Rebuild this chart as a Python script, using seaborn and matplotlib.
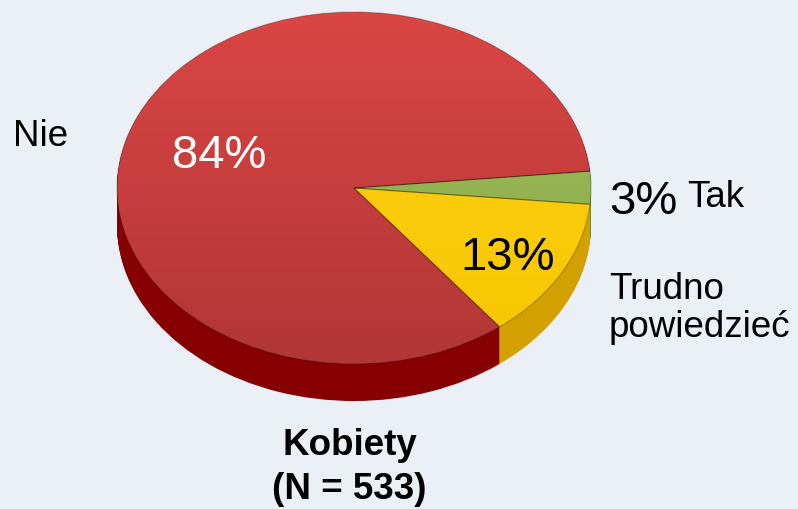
import numpy as np
import matplotlib.pyplot as plt
from matplotlib.colors import LinearSegmentedColormap
import seaborn as sns

# data
labels = ["Tak", "Trudno", "powiedzieć", "Nie"]
shares = [3, 13, 84]
pct_text = ["3%", "13%", "84%"]
title_lines = ["Kobiety", "(N = 533)"]

# top face colours (light -> dark) and side colours
top_grad = [("#A9C766", "#7F9E3C"), ("#FFD21A", "#F7C600"), ("#DA4644", "#B13636")]
side_colors = ["#6F8C30", "#D2A000", "#860000"]

sns.set_theme(style="white")
plt.rcParams["font.family"] = ["Liberation Sans", "DejaVu Sans"]

W, H = 798, 509
bg = "#EBEFF6"
fig = plt.figure(figsize=(W / 100, H / 100), dpi=100, facecolor=bg)
ax = fig.add_axes([0, 0, 1, 1])
ax.set_facecolor(bg)

# pie top face is an ellipse: 237 px wide radius, 176 px tall radius
k = 176 / 237
cx, cy = 354, (H - 188) / k
rad = 237
depth = 37 / k
start = 5.5

# side wall: stack of shifted pies
n_layers = 40
for i in range(n_layers):
    off = depth * (1 - i / n_layers)
    ax.pie(shares, colors=side_colors, radius=rad, center=(cx, cy - off),
           startangle=start, counterclock=False, frame=True,
           wedgeprops=dict(linewidth=0))

# top face, with a soft gradient inside each wedge
wedges, _ = ax.pie(shares, colors=[c[0] for c in top_grad], radius=rad,
                   center=(cx, cy), startangle=start, counterclock=False,
                   frame=True, wedgeprops=dict(linewidth=0.8, edgecolor="#00000040"))
grad = np.linspace(0, 1, 256).reshape(-1, 1)
for w, (c1, c2) in zip(wedges, top_grad):
    cmap = LinearSegmentedColormap.from_list("g", [c1, c2])
    im = ax.imshow(grad, cmap=cmap, aspect="auto", origin="upper",
                   extent=(cx - rad, cx + rad, cy - rad, cy + rad), zorder=w.get_zorder())
    im.set_clip_path(w)
    w.set_facecolor("none")
    w.set_zorder(im.get_zorder() + 0.1)

ax.set_aspect("auto")
ax.set_xlim(0, W)
ax.set_ylim(0, H / k)
ax.axis("off")


def px(x, y):
    return x / W, 1 - y / H


big, small = 34, 26.5
fig.text(*px(172, 168), pct_text[2], color="white", fontsize=big, ha="left", va="baseline")
fig.text(*px(460, 270), pct_text[1], color="black", fontsize=big, ha="left", va="baseline")
fig.text(*px(609, 214), pct_text[0], color="black", fontsize=big, ha="left", va="baseline")

fig.text(*px(13, 146), labels[3], color="black", fontsize=small, ha="left", va="baseline")
fig.text(*px(687, 207), labels[0], color="black", fontsize=small, ha="left", va="baseline")
fig.text(*px(609, 299), labels[1], color="black", fontsize=small, ha="left", va="baseline")
fig.text(*px(609, 337), labels[2], color="black", fontsize=small, ha="left", va="baseline")

fig.text(*px(350, 455), title_lines[0], color="black", fontsize=small,
         fontweight="bold", ha="center", va="baseline")
fig.text(*px(349, 499), title_lines[1], color="black", fontsize=small,
         fontweight="bold", ha="center", va="baseline")

fig.savefig("out.png", dpi=100, facecolor=fig.get_facecolor())
